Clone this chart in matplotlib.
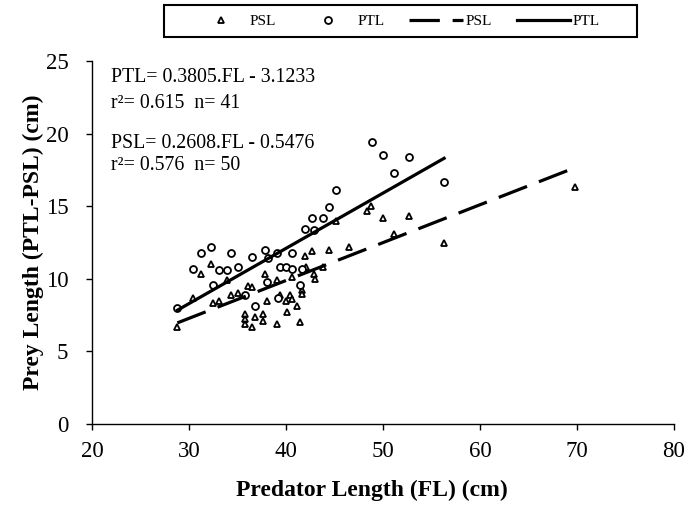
import matplotlib
matplotlib.use("Agg")
import matplotlib.pyplot as plt
from matplotlib.lines import Line2D
from matplotlib.patches import Rectangle
import numpy as np

plt.rcParams['font.family'] = ['Liberation Serif', 'DejaVu Serif']

# Predator length (FL) vs prey total length (PTL) - circles
ptl_fl = [28.8, 30.4, 31.2, 32.3, 32.5, 33.1, 33.9, 34.3, 35.0, 35.8,
          36.5, 36.8, 37.8, 38.1, 38.0, 39.1, 39.4, 40.0, 40.6, 40.6,
          41.6, 41.4, 39.2, 42.0, 42.9, 42.7, 43.8, 44.4, 45.2, 48.9,
          50.0, 52.7, 51.1, 56.3]
ptl_len = [8.0, 10.65, 11.8, 12.2, 9.6, 10.6, 10.6, 11.8, 10.8, 8.85,
           11.5, 8.1, 12.0, 11.4, 9.8, 11.8, 10.8, 10.8, 10.7, 11.8,
           10.7, 9.6, 8.65, 13.4, 13.35, 14.2, 14.2, 14.95, 16.1, 19.4,
           18.5, 18.4, 17.3, 16.7]

# Predator length (FL) vs prey standard length (PSL) - triangles
psl_fl = [28.8, 30.4, 31.2, 32.3, 32.5, 33.1, 33.9, 34.3, 35.0, 36.1,
          36.5, 37.8, 39.1, 35.8, 35.8, 35.8, 36.8, 37.6, 37.6, 36.5,
          39.1, 38.0, 40.6, 42.1, 43.8, 42.9, 43.0, 42.0, 42.7, 44.4,
          46.5, 45.2, 48.8, 48.4, 50.0, 52.7, 51.1, 56.3, 69.8, 41.6,
          41.7, 39.4, 40.0, 40.4, 40.6, 41.1, 40.1, 41.4]
psl_len = [6.7, 8.7, 10.3, 11.0, 8.3, 8.5, 9.95, 8.9, 9.05, 9.5,
           9.45, 10.3, 9.9, 7.55, 7.2, 6.9, 7.4, 7.6, 7.1, 6.7,
           6.9, 8.5, 10.1, 10.8, 10.8, 10.3, 10.0, 11.6, 11.9, 12.0,
           12.2, 14.0, 15.0, 14.7, 14.2, 14.35, 13.1, 12.45, 16.3, 9.2,
           8.95, 8.9, 8.5, 8.9, 8.6, 8.1, 7.7, 7.05]

# regression fits
ptl_slope, ptl_icpt = 0.3805, -3.1233
psl_slope, psl_icpt = 0.2608, -0.5476

W, H = 686, 509
fig = plt.figure(figsize=(W / 100, H / 100), dpi=100)
ax = fig.add_axes([92 / W, 1 - 424 / H, 582 / W, 363 / H])

mk = dict(linestyle='none', markersize=5, markerfacecolor='white',
          markeredgecolor='black', markeredgewidth=1.3)
dash = (0, (9.5, 4))

ax.plot(psl_fl, psl_len, marker='^', **mk)
ax.plot(ptl_fl, ptl_len, marker='o', **mk)

x_psl = np.array([min(psl_fl), max(psl_fl)])
x_ptl = np.array([min(ptl_fl), max(ptl_fl)])
ax.plot(x_psl, psl_slope * x_psl + psl_icpt, color='black', lw=2.3, linestyle=dash)
ax.plot(x_ptl, ptl_slope * x_ptl + ptl_icpt, color='black', lw=2.3)

ax.set_xlim(20, 80)
ax.set_ylim(0, 25)
ax.set_xticks(range(20, 81, 10))
ax.set_yticks(range(0, 26, 5))
ax.spines['top'].set_visible(False)
ax.spines['right'].set_visible(False)
for s in ['left', 'bottom']:
    ax.spines[s].set_linewidth(1.0)
ax.tick_params(direction='out', length=4, width=1.0, labelsize=16.5)
ax.tick_params(axis='x', pad=8)
ax.tick_params(axis='y', pad=13)

ax.set_xlabel('Predator Length (FL) (cm)', fontsize=17, fontweight='bold')
ax.set_ylabel('Prey Length (PTL-PSL) (cm)', fontsize=17, fontweight='bold', labelpad=1)
ax.xaxis.set_label_coords(0.481, -0.153)

# equation text, one line at a time (pixel centres from the top)
eq_lines = ['PTL= 0.3805.FL - 3.1233', 'r²= 0.615  n= 41',
            'PSL= 0.2608.FL - 0.5476', 'r²= 0.576  n= 50']
eq_y = [78, 103, 143, 165]
for txt, yp in zip(eq_lines, eq_y):
    fig.text(111 / W, 1 - yp / H, txt, fontsize=14.3, va='center', ha='left')

# legend: frame drawn separately
fig.patches.append(Rectangle((164 / W, 1 - 37 / H), 473 / W, 32 / H,
                             transform=fig.transFigure, fill=False,
                             edgecolor='black', linewidth=1.5))
handles = [
    Line2D([], [], marker='^', **mk),
    Line2D([], [], marker='o', **mk),
    Line2D([], [], color='black', lw=2.3, linestyle=dash),
    Line2D([], [], color='black', lw=2.3),
]
labels = ['PSL', 'PTL', 'PSL', 'PTL']
fig.legend(handles, labels, ncol=4, loc='center left',
           bbox_to_anchor=(194 / W, 1 - 21 / H), frameon=False, fontsize=11,
           handlelength=3.5, handletextpad=0.15, columnspacing=1.65,
           borderpad=0, borderaxespad=0)

fig.savefig('out.png', dpi=100)
